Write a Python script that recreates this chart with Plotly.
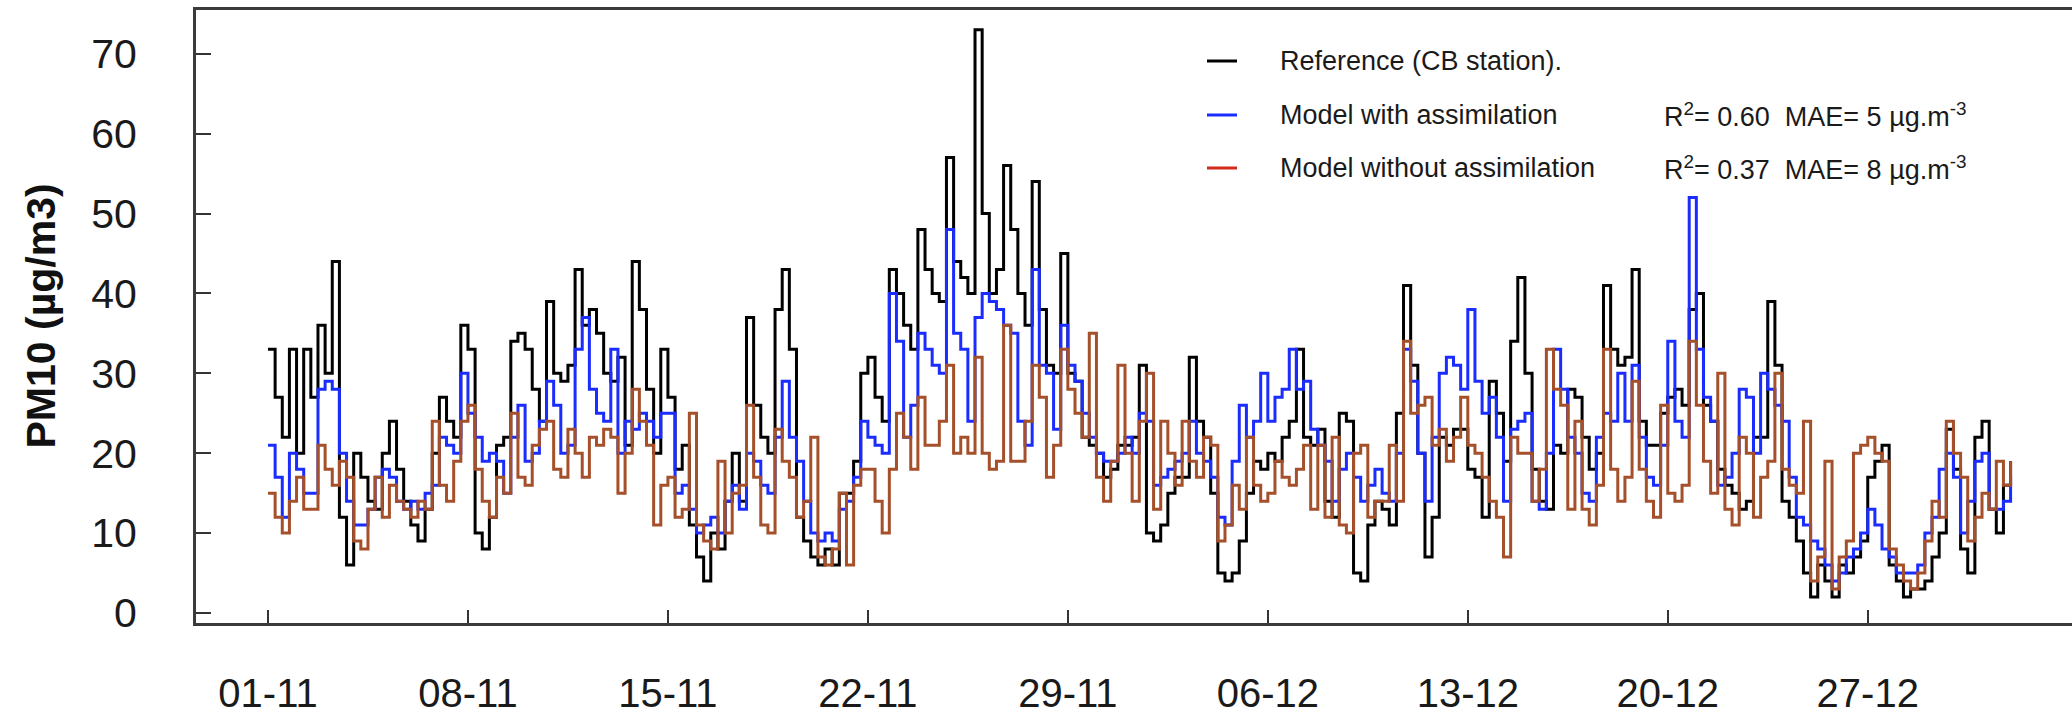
import pandas as pd
import plotly.graph_objects as go

# ---------------- data (6-hourly values, 01-11 00:00 -> 01-01 00:00) ----------------
start = pd.Timestamp("2023-11-01")

reference_cb = [
    33, 27, 22, 33,  20, 33, 27, 36,  30, 44, 12, 6,  20, 17, 14, 13,  20, 24, 18, 14,
    11, 9, 13, 20,  27, 24, 22, 36,  33, 10, 8, 12,  21, 22, 34, 35,  33, 28, 24, 39,
    30, 29, 31, 43,  36, 38, 35, 30,  29, 32, 21, 44,  38, 28, 20, 33,  27, 18, 21, 11,
    7, 4, 10, 8,  14, 20, 14, 37,  26, 22, 20, 38,  43, 33, 12, 9,  7, 6, 8, 6,
    15, 15, 19, 30,  32, 27, 24, 43,  40, 36, 33, 48,  43, 40, 39, 57,  44, 42, 40, 73,
    50, 40, 43, 56,  48, 40, 36, 54,  38, 31, 30, 45,  30, 29, 22, 21,  20, 17, 18, 21,
    21, 22, 31, 10,  9, 11, 15, 17,  17, 32, 24, 22,  15, 5, 4, 5,  9, 15, 19, 18,
    20, 19, 22, 24,  33, 22, 21, 23,  14, 12, 25, 24,  5, 4, 11, 14,  13, 11, 25, 41,
    31, 20, 7, 12,  22, 21, 23, 23,  18, 17, 12, 29,  25, 19, 34, 42,  30, 18, 14, 13,
    21, 20, 28, 27,  22, 18, 20, 41,  33, 31, 32, 43,  24, 21, 21, 25,  27, 28, 26, 38,
    40, 26, 24, 18,  16, 15, 13, 14,  22, 22, 39, 31,  14, 12, 9, 5,  2, 6, 4, 2,
    6, 5, 7, 9,  17, 19, 21, 6,  4, 2, 3, 3,  4, 7, 10, 23,  18, 8, 5, 22,
    24, 13, 10, 16,  19,
]

model_with_assimilation = [
    21, 17, 12, 20,  18, 15, 15, 28,  29, 28, 20, 14,  11, 11, 13, 17,  18, 17, 14, 13,
    14, 13, 15, 16,  22, 21, 20, 30,  25, 22, 19, 20,  19, 15, 22, 26,  19, 20, 24, 29,
    26, 20, 21, 33,  37, 28, 25, 24,  33, 20, 24, 23,  25, 24, 22, 25,  25, 15, 16, 13,
    10, 11, 12, 10,  14, 16, 13, 20,  19, 16, 15, 22,  29, 22, 19, 14,  10, 9, 10, 9,
    13, 14, 17, 24,  22, 21, 20, 40,  34, 22, 26, 35,  33, 31, 30, 48,  35, 33, 24, 37,
    40, 39, 38, 36,  35, 24, 21, 43,  31, 30, 23, 36,  31, 29, 25, 22,  20, 19, 19, 20,
    22, 20, 25, 24,  16, 17, 18, 19,  20, 24, 20, 19,  17, 12, 11, 19,  26, 22, 24, 30,
    24, 27, 28, 33,  28, 29, 23, 21,  19, 14, 18, 20,  17, 14, 16, 18,  15, 14, 20, 33,
    29, 20, 14, 22,  30, 32, 31, 28,  38, 29, 25, 27,  22, 14, 23, 24,  25, 14, 13, 20,
    33, 28, 22, 20,  15, 14, 22, 25,  24, 30, 24, 31,  22, 17, 16, 21,  34, 24, 22, 52,
    33, 27, 24, 16,  17, 20, 28, 27,  20, 30, 28, 26,  24, 17, 12, 11,  9, 8, 6, 4,
    5, 7, 8, 10,  13, 11, 8, 7,  5, 5, 5, 6,  10, 12, 18, 20,  17, 10, 14, 19,
    20, 13, 13, 14,  17,
]

model_without_assimilation = [
    15, 12, 10, 14,  17, 13, 13, 21,  18, 16, 19, 17,  9, 8, 13, 17,  12, 16, 14, 13,
    12, 14, 13, 24,  16, 14, 19, 24,  26, 18, 14, 12,  17, 15, 25, 17,  16, 21, 23, 24,
    18, 17, 23, 20,  17, 22, 21, 23,  22, 15, 20, 28,  24, 21, 11, 16,  17, 12, 13, 25,
    11, 9, 8, 19,  10, 15, 16, 26,  17, 11, 10, 23,  19, 17, 12, 14,  22, 7, 6, 8,
    15, 6, 16, 18,  18, 14, 10, 18,  25, 22, 18, 27,  21, 21, 24, 31,  20, 22, 20, 32,
    20, 18, 19, 36,  19, 19, 24, 31,  27, 17, 21, 33,  28, 25, 22, 35,  17, 14, 19, 31,
    20, 14, 24, 30,  13, 24, 20, 16,  24, 19, 17, 22,  21, 9, 11, 16,  13, 22, 16, 14,
    15, 19, 17, 16,  18, 21, 13, 21,  12, 22, 11, 10,  20, 21, 12, 14,  14, 21, 14, 34,
    25, 26, 27, 21,  23, 19, 22, 27,  21, 20, 17, 14,  12, 7, 22, 20,  20, 14, 18, 33,
    28, 26, 13, 24,  13, 11, 16, 33,  18, 14, 17, 29,  18, 14, 12, 26,  15, 14, 16, 34,
    26, 19, 15, 30,  13, 11, 22, 20,  12, 17, 19, 30,  18, 16, 15, 24,  4, 7, 19, 3,
    7, 9, 20, 21,  22, 20, 19, 8,  6, 4, 3, 5,  9, 14, 12, 24,  20, 17, 9, 12,
    15, 13, 19, 16,  19,
]

tick_labels = ["01-11", "08-11", "15-11", "22-11", "29-11", "06-12", "13-12", "20-12", "27-12"]
y_ticks = [0, 10, 20, 30, 40, 50, 60, 70]

series_names = ["Reference (CB station).", "Model with assimilation", "Model without assimilation"]
stats_text = ["", "R<sup>2</sup>= 0.60\u00a0\u00a0MAE= 5 µg.m<sup>-3</sup>",
              "R<sup>2</sup>= 0.37\u00a0\u00a0MAE= 8 µg.m<sup>-3</sup>"]

# ---------------- figure ----------------
times = pd.date_range(start, periods=len(reference_cb), freq="6h")
tick_dates = pd.date_range(start, periods=len(tick_labels), freq="7D")

W, H = 2072, 720
L, R, T, B = 196, 0, 10, 97
pw, ph = W - L - R, H - T - B

def px_x(x):
    return (x - L) / pw

def px_y(y):
    return (H - B - y) / ph

line_colors = ["#000000", "#1a2cff", "#a5502a"]
legend_colors = ["#000000", "#1a2cff", "#d42a1e"]
FONT = "Liberation Sans, Arial, sans-serif"

fig = go.Figure()
for vals, col, name in zip([reference_cb, model_with_assimilation, model_without_assimilation],
                           line_colors, series_names):
    fig.add_trace(go.Scatter(x=times, y=vals, mode="lines", name=name,
                             line=dict(color=col, width=3, shape="hv"),
                             showlegend=False))

shapes = []
annotations = []
for i, (name, col, st) in enumerate(zip(series_names, legend_colors, stats_text)):
    yrow = [61, 115, 168][i]
    shapes.append(dict(type="line", xref="paper", yref="paper",
                       x0=px_x(1207), x1=px_x(1237), y0=px_y(yrow), y1=px_y(yrow),
                       line=dict(color=col, width=3)))
    annotations.append(dict(xref="paper", yref="paper", x=px_x(1278), y=px_y(yrow),
                            xanchor="left", yanchor="middle", showarrow=False, text=name,
                            font=dict(family=FONT, size=27, color="#1a1a1a")))
    if st:
        annotations.append(dict(xref="paper", yref="paper", x=px_x(1662), y=px_y(yrow),
                                xanchor="left", yanchor="middle", showarrow=False, text=st,
                                font=dict(family=FONT, size=27, color="#1a1a1a")))

annotations.append(dict(xref="paper", yref="paper", x=px_x(40), y=0.5,
                        xanchor="center", yanchor="middle", showarrow=False,
                        text="<b>PM10 (µg/m3)</b>", textangle=-90,
                        font=dict(family=FONT, size=41, color="#111111")))

fig.update_layout(
    width=W, height=H,
    margin=dict(l=L, r=R, t=T, b=B, autoexpand=False),
    paper_bgcolor="white", plot_bgcolor="white",
    showlegend=False,
    shapes=shapes, annotations=annotations,
    xaxis=dict(type="date", automargin=False,
               range=[start - pd.Timedelta(days=2.52), start + pd.Timedelta(days=63.15)],
               tickvals=tick_dates, ticktext=tick_labels,
               ticks="inside", ticklen=13, tickwidth=2, tickcolor="#333333",
               showline=True, linecolor="#3a3a3a", linewidth=3, mirror=True,
               showgrid=False, zeroline=False,
               tickfont=dict(family=FONT, size=40, color="#1a1a1a"),
               ticklabelstandoff=33),
    yaxis=dict(range=[-1.25, 75.47], tickvals=y_ticks, automargin=False,
               ticks="inside", ticklen=15, tickwidth=2, tickcolor="#333333",
               showline=True, linecolor="#3a3a3a", linewidth=3, mirror=False,
               showgrid=False, zeroline=False,
               tickfont=dict(family=FONT, size=41, color="#1a1a1a"),
               ticklabelstandoff=48),
)

fig.write_html("out.html")
